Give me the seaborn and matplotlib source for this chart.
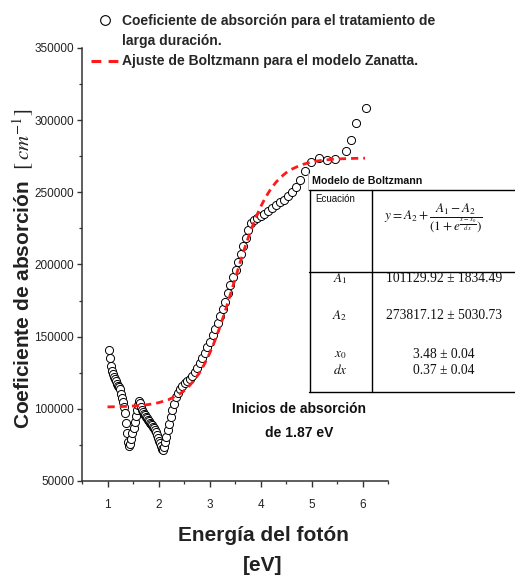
import matplotlib
matplotlib.use("Agg")
import matplotlib.pyplot as plt
import seaborn as sns
import pandas as pd
from matplotlib.lines import Line2D
from matplotlib.ticker import MultipleLocator

# ---- data ----
energy = [1.03, 1.05, 1.07, 1.09, 1.11, 1.13, 1.15, 1.17, 1.19, 1.21, 1.23, 1.25,
          1.27, 1.29, 1.31, 1.33, 1.35, 1.37, 1.39, 1.41, 1.43, 1.45, 1.47, 1.49,
          1.51, 1.53, 1.55, 1.57, 1.59, 1.61, 1.63, 1.65, 1.67, 1.69, 1.71, 1.73,
          1.75, 1.77, 1.79, 1.81, 1.83, 1.85, 1.87, 1.89, 1.91, 1.93, 1.95, 1.97,
          1.99, 2.01, 2.03, 2.05, 2.07, 2.09, 2.11, 2.13, 2.15, 2.18, 2.21, 2.24,
          2.27, 2.30, 2.34, 2.38, 2.42, 2.46, 2.51, 2.56, 2.61, 2.66, 2.71, 2.76,
          2.81, 2.86, 2.91, 2.96, 3.01, 3.06, 3.11, 3.16, 3.21, 3.26, 3.31, 3.36,
          3.41, 3.46, 3.51, 3.56, 3.61, 3.66, 3.71, 3.76, 3.82, 3.88, 3.94, 4.00,
          4.07, 4.14, 4.22, 4.30, 4.38, 4.46, 4.54, 4.62, 4.70, 4.78, 4.88, 4.99,
          5.14, 5.30, 5.47, 5.67, 5.78, 5.88, 6.06]
alpha = [140700, 135000, 130000, 126500, 124000, 122000, 120500, 119000, 117500, 116000, 114800, 113500,
         110500, 107500, 104500, 101000, 97000, 90000, 83000, 77000, 74000, 75500, 79000, 83000,
         87000, 91000, 95000, 99000, 103000, 105500, 104000, 101500, 99500, 98000, 96500, 95500,
         94500, 93500, 92500, 91500, 90500, 89500, 88500, 87500, 86500, 85500, 84000, 82000,
         80000, 78000, 76000, 74000, 72000, 71500, 73500, 77000, 80500, 85000, 89500, 94000,
         99000, 103500, 108000, 111000, 113500, 116000, 118000, 119500, 121000, 123000, 125500, 128500,
         132000, 135500, 139000, 143000, 146500, 151000, 155500, 159500, 164000, 169000, 174000, 180000,
         186000, 191500, 196000, 201500, 207000, 212500, 218500, 224000, 228500, 230500, 232000, 233500,
         235000, 236800, 238800, 241000, 243000, 244500, 247500, 250500, 254000, 258500, 265000, 271000,
         273500, 272300, 272800, 278500, 286600, 297700, 308100]

fit_energy = [1.0, 1.2, 1.4, 1.6, 1.8, 2.0, 2.2, 2.4, 2.5, 2.6, 2.7, 2.8, 2.9, 3.0,
              3.1, 3.2, 3.3, 3.4, 3.5, 3.6, 3.7, 3.8, 3.9, 4.0, 4.1, 4.2, 4.3, 4.4,
              4.5, 4.6, 4.8, 5.0, 5.2, 5.4, 5.6, 5.8, 6.0, 6.05]
fit_alpha = [101342, 101494, 101753, 102196, 102951, 104237, 106396, 109974, 112537, 115784,
             119838, 124834, 130923, 138195, 146663, 156287, 166890, 178183, 189805, 201351,
             212415, 222645, 231821, 239803, 246588, 252231, 256840, 260554, 263507, 265833,
             269077, 271024, 272180, 272859, 273258, 273491, 273627, 273660]

x_ticks = [1, 2, 3, 4, 5, 6]
y_ticks = [50000, 100000, 150000, 200000, 250000, 300000, 350000]

table_title = "Modelo de Boltzmann"
table_equation = r"$y = A_2 + \dfrac{A_1 - A_2}{\left(1 + e^{\frac{x - x_0}{dx}}\right)}$"
param_names = [r"$A_1$", r"$A_2$", r"$x_0$", r"$dx$"]
param_values = ["101129.92 ± 1834.49", "273817.12 ± 5030.73", "3.48 ± 0.04", "0.37 ± 0.04"]

label_data_1 = "Coeficiente de absorción para el tratamiento de"
label_data_2 = "larga duración."
label_fit = "Ajuste de Boltzmann para el modelo Zanatta."
annotation = "Inicios de absorción\nde 1.87 eV"

# ---- style ----
sns.set_theme(style="ticks")
plt.rcParams['font.family'] = ['Liberation Sans', 'DejaVu Sans']
plt.rcParams['mathtext.fontset'] = 'stix'

W, H = 515, 577
fig = plt.figure(figsize=(W / 100, H / 100), dpi=100)
ax = fig.add_axes([82 / W, 1 - 481 / H, 306 / W, 433 / H])

df = pd.DataFrame({"energy": energy, "alpha": alpha})
fit_df = pd.DataFrame({"energy": fit_energy, "alpha": fit_alpha})

sns.scatterplot(data=df, x="energy", y="alpha", ax=ax, marker="o", s=34,
                facecolor="white", edgecolor="black", linewidth=0.7, zorder=2, legend=False)
sns.lineplot(data=fit_df, x="energy", y="alpha", ax=ax, color="#ff1a1a", linewidth=2.0,
             linestyle=(0, (2.6, 1.8)), zorder=3, legend=False)

ax.set_xlim(0.5, 6.5)
ax.set_ylim(50000, 350000)
ax.set_xticks(x_ticks)
ax.set_yticks(y_ticks)
ax.xaxis.set_minor_locator(MultipleLocator(0.5))
ax.yaxis.set_minor_locator(MultipleLocator(25000))
ax.set_xticklabels([str(v) for v in x_ticks])
ax.set_yticklabels([str(v) for v in y_ticks])
sns.despine(ax=ax)
for sp in ("left", "bottom"):
    ax.spines[sp].set_color("#333333")
    ax.spines[sp].set_linewidth(1.1)
ax.tick_params(axis="x", which="major", length=4.3, width=1, color="#333333", pad=9,
               labelsize=8.5, labelcolor="#222222")
ax.tick_params(axis="y", which="major", length=3.6, width=1, color="#333333", pad=2,
               labelsize=8.5, labelcolor="#222222")
ax.tick_params(axis="both", which="minor", length=2.4, width=0.9, color="#333333")

ax.set_xlabel("Energía del fotón\n[eV]", fontsize=15, fontweight="bold", linespacing=1.75,
              color="#222222", va="top")
ax.xaxis.set_label_coords((263 - 82) / 306, -0.104)
ax.set_ylabel(r"Coeficiente de absorción  $\left[\,cm^{-1}\right]$", fontsize=15,
              fontweight="bold", color="#222222")
ax.yaxis.set_label_coords(-0.15, 0.49)

ax.text(4.75, 91500, annotation, ha="center", va="center", fontsize=10,
        fontweight="bold", linespacing=1.9, color="#111111")

# legend
h_data = Line2D([], [], marker="o", linestyle="none", markersize=7,
                markerfacecolor="white", markeredgecolor="black", markeredgewidth=0.8)
h_blank = Line2D([], [], linestyle="none", marker=None)
h_fit = Line2D([], [], color="#ff1a1a", linewidth=2.2, linestyle=(0, (3.2, 2.4)))
fig.legend(handles=[h_data, h_blank, h_fit], labels=[label_data_1, label_data_2, label_fit],
           loc="upper left", bbox_to_anchor=(91 / W, 1 - 14 / H), frameon=False,
           prop=dict(weight="bold", size=10), handlelength=2.0, handletextpad=0.25,
           labelspacing=0.45, borderpad=0, borderaxespad=0)

# table
def fx(px):
    return px / W

def fy(py):
    return 1 - py / H

def hline(y, x0, x1, **kw):
    fig.add_artist(Line2D([fx(x0), fx(x1)], [fy(y), fy(y)], transform=fig.transFigure, **kw))

def vline(x, y0, y1, **kw):
    fig.add_artist(Line2D([fx(x), fx(x)], [fy(y0), fy(y1)], transform=fig.transFigure, **kw))

vline(307.5, 171, 190, color="#b0b0b0", linewidth=0.6)
hline(190, 309, 515, color="black", linewidth=1.0)
hline(271.5, 309, 515, color="black", linewidth=1.0)
hline(391.5, 309, 515, color="black", linewidth=1.0)
vline(309.5, 190, 391.5, color="black", linewidth=1.0)
vline(372, 190, 391.5, color="black", linewidth=1.0)

fig.text(fx(312), fy(181.5), table_title, ha="left", va="center", fontsize=7.7,
         fontweight="bold", color="#111111")
fig.text(fx(315), fy(199), "Ecuación", ha="left", va="center", fontsize=7, color="#111111")
fig.text(fx(433), fy(219), table_equation, ha="center", va="center", fontsize=9.5, color="#111111")
row_y = [278.5, 315.5, 355, 370.5]
for name, val, yy in zip(param_names, param_values, row_y):
    fig.text(fx(340), fy(yy), name, ha="center", va="center", fontsize=9.5, color="#111111")
    fig.text(fx(444), fy(yy), val, ha="center", va="center", fontsize=9.8,
             family=["Liberation Serif", "DejaVu Serif"], color="#111111")

fig.savefig("out.png", dpi=100)
